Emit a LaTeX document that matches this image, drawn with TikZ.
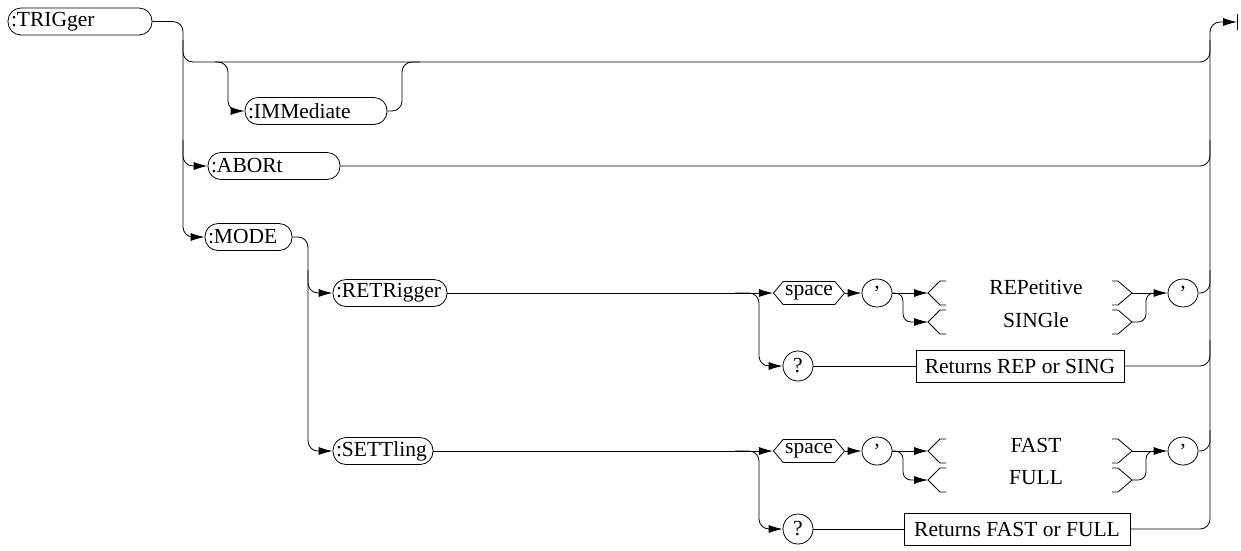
\documentclass[tikz,border=0pt]{standalone}
\usepackage{fontspec}
\setmainfont{Liberation Serif}
\usetikzlibrary{arrows.meta,shapes.symbols,shapes.geometric}
\tikzset{
  ln/.style={line width=0.8pt},
  rc/.style={rounded corners=10pt},
  arr/.style={-{Latex[length=14pt,width=8pt]}},
  term/.style={draw, line width=0.8pt, rounded corners=13pt, minimum height=27pt,
    inner xsep=3pt, inner ysep=0pt, align=left},
  hexa/.style={draw, line width=0.8pt, shape=signal, signal to=east and west,
    signal pointer angle=100, minimum height=23pt, minimum width=71pt, inner xsep=2pt, inner ysep=0pt},
  quo/.style={draw, line width=0.8pt, ellipse, minimum width=30pt, minimum height=28pt, inner sep=0pt},
  qm/.style={draw, line width=0.8pt, circle, minimum size=30pt, inner sep=0pt},
  rbox/.style={draw, line width=0.8pt, rectangle, minimum height=32pt, inner sep=0pt},
  brk/.style={line width=0.8pt}
}
\begin{document}
\begin{tikzpicture}[x=1pt,y=-1pt,font=\fontsize{21.5}{24}\selectfont]
\useasboundingbox (0,0) rectangle (1241,550);

% main nodes
\node[term, text width=138pt] (trig) at (80,21.5) {:TRIGger};
\node[term, text width=136pt] (imm) at (316,111) {:IMMediate};
\node[term, text width=126pt] (abort) at (274,166) {:ABORt};
\node[term, text width=81pt] (mode) at (248.5,237) {:MODE};
\node[term, text width=108pt] (ret) at (390,293) {:RETRigger};
\node[term, text width=94pt] (sett) at (383,451) {:SETTling};

% RETRigger row
\node[hexa] (sp1) at (809,293) {space};
\node[quo] (q1) at (877,293) {’};
\node[quo] (q2) at (1183,293) {’};
\node (t1) at (1036,287) {REPetitive};
\node (t2) at (1036,320) {SINGle};
\node[qm] (qm1) at (798,366) {?};
\node[rbox, minimum width=208pt] (box1) at (1020,366) {Returns REP or SING};

% SETTling row
\node[hexa] (sp2) at (809,451) {space};
\node[quo] (q3) at (877,451) {’};
\node[quo] (q4) at (1183,451) {’};
\node (t3) at (1036,445) {FAST};
\node (t4) at (1036,478) {FULL};
\node[qm] (qm2) at (798,529) {?};
\node[rbox, minimum width=226pt] (box2) at (1017,529) {Returns FAST or FULL};

% bracket apexes
\coordinate (la1) at (928,293); \coordinate (lb1) at (928,322);
\coordinate (ra1) at (1132,293); \coordinate (rb1) at (1132,322);
\coordinate (la2) at (928,451); \coordinate (lb2) at (928,480);
\coordinate (ra2) at (1132,451); \coordinate (rb2) at (1132,480);
\coordinate (endc) at (1237,22);

% brackets
\foreach \y in {293,322,451,480}{
  \draw[brk] (946,\y-12) -- (940,\y-12) -- (928,\y) -- (940,\y+12) -- (946,\y+12);
  \draw[brk] (1112,\y-12) -- (1118,\y-12) -- (1132,\y) -- (1118,\y+12) -- (1112,\y+12);
}

% trunk and top level
\draw[ln,rc,arr] (trig.east) -| (183,237) -- (mode.west);
\draw[ln,rc] (183,40) |- (700,62) -| (1210,40);
\draw[ln,rc,arr] (215,62) -| (228,111) -- (imm.west);
\draw[ln,rc] (imm.east) -| (402,62) -- (420,62);
\draw[ln,rc,arr] (183,140) |- (abort.west);
\draw[ln,rc] (abort.east) -| (1210,140);

% right exit line
\draw[ln,rc,arr] (box2.east) -| (1210,22) -- (endc);
\draw[ln] (1237,14) -- (1237,30);

% MODE
\draw[ln,rc,arr] (mode.east) -| (308,451) -- (sett.west);
\draw[ln,rc,arr] (308,270) |- (ret.west);

% RETRigger row connectors
\draw[ln,arr] (ret.east) -- (sp1.west);
\draw[ln,rc,arr] (735,293) -| (759,366) -- (qm1.west);
\draw[ln,arr] (sp1.east) -- (q1.west);
\draw[ln,arr] (q1.east) -- (la1);
\draw[ln,rounded corners=8pt,arr] (q1.east) -| (903,322) -- (lb1);
\draw[ln,arr] (ra1) -- (q2.west);
\draw[ln,rounded corners=8pt] (rb1) -| (1146,293) -- (1155,293);
\draw[ln,rc] (q2.east) -| (1210,270);
\draw[ln] (qm1.east) -- (box1.west);
\draw[ln,rc] (box1.east) -| (1210,340);

% SETTling row connectors
\draw[ln,arr] (sett.east) -- (sp2.west);
\draw[ln,rc,arr] (735,451) -| (759,529) -- (qm2.west);
\draw[ln,arr] (sp2.east) -- (q3.west);
\draw[ln,arr] (q3.east) -- (la2);
\draw[ln,rounded corners=8pt,arr] (q3.east) -| (903,480) -- (lb2);
\draw[ln,arr] (ra2) -- (q4.west);
\draw[ln,rounded corners=8pt] (rb2) -| (1146,451) -- (1155,451);
\draw[ln,rc] (q4.east) -| (1210,430);
\draw[ln] (qm2.east) -- (box2.west);
\end{tikzpicture}
\end{document}
